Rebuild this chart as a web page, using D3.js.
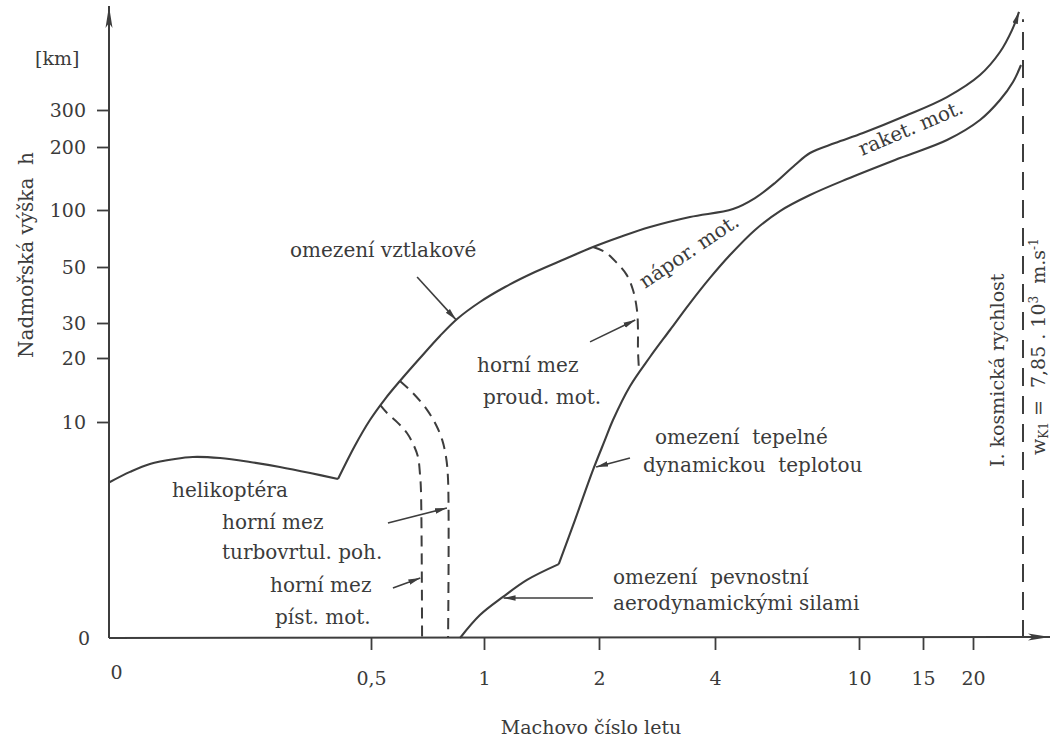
<!DOCTYPE html>
<html>
<head>
<meta charset="utf-8">
<script src="https://cdn.jsdelivr.net/npm/d3@7/dist/d3.min.js"></script>
<style>
  html, body { margin: 0; padding: 0; background: #ffffff; }
  svg text { font-family: "DejaVu Serif", "Liberation Serif", serif; fill: #3b3b3b; white-space: pre; }
</style>
</head>
<body>
<svg id="chart" width="1051" height="740"></svg>
<script>
// ---------------- DATA ----------------
// x axis: Mach number (non-uniform schematic scale)
const machTicks = [0, 0.5, 1, 2, 4, 10, 15, 20];
const machTickLabels = ["0", "0,5", "1", "2", "4", "10", "15", "20"];
// y axis: altitude in km (non-uniform schematic scale)
const altTicks = [0, 10, 20, 30, 50, 100, 200, 300];
const altTickLabels = ["0", "10", "20", "30", "50", "100", "200", "300"];

// helicopter limit  [Mach, km]
const heliCurve = [[0, 7.2], [0.04, 7.69], [0.078, 8.06], [0.126, 8.29], [0.16, 8.38], [0.212, 8.33],
  [0.269, 8.15], [0.326, 7.92], [0.384, 7.64], [0.437, 7.36]];
// lift limit (omezení vztlakové) up to the rocket region
const liftCurve = [[0.437, 7.36], [0.469, 8.89], [0.498, 10.31], [0.562, 13.59], [0.628, 16.41], [0.717, 20],
  [0.805, 26.29], [0.881, 31.43], [0.982, 37.5], [1.183, 42.86], [1.443, 48.2], [1.704, 57.0], [1.948, 67.5],
  [2.362, 76.3], [2.879, 85.1], [3.569, 93.9], [4.75, 101.6], [5.667, 119], [6.5, 142.9], [7.333, 171.4],
  [7.958, 190.5], [9.0, 210.8], [10.31, 237.8], [13.59, 283.8], [17.4, 335], [20.7, 394.6], [22.7, 456.8],
  [23.9, 516], [24.6, 565]];
// strength limit by aerodynamic forces (omezení pevnostní)
const strengthCurve = [[0.894, 0], [0.982, 1.06], [1.165, 1.9], [1.374, 2.69], [1.65, 3.42]];
// thermal limit by stagnation temperature (omezení tepelné)
const thermalCurve = [[1.65, 3.42], [1.791, 5.46], [1.948, 7.78], [2.103, 9.17], [2.241, 10.31], [2.534, 15.6],
  [2.879, 20.29], [3.224, 28.0], [3.569, 37.1], [3.914, 46.1], [4.625, 60.5], [5.667, 82.5], [6.708, 99.1],
  [7.958, 123.8], [9.5, 149.2], [13.2, 182.5], [17.4, 218.9], [20.7, 273], [22.7, 327], [24.0, 375.7],
  [24.8, 421.6]];
// upper limits of engines (dashed)
const pistonLimit = [[0.54, 12.66], [0.571, 11.4], [0.62, 9.95], [0.659, 9.49], [0.69, 8.9], [0.708, 8.38],
  [0.717, 7.55], [0.721, 6.85], [0.726, 0]];
const turbopropLimit = [[0.628, 16.41], [0.686, 14.5], [0.748, 11.9], [0.788, 9.86], [0.815, 9.17],
  [0.832, 8.38], [0.841, 7.31], [0.841, 0]];
const jetLimit = [[1.948, 67.5], [2.103, 63.2], [2.31, 53.5], [2.48, 47.1], [2.586, 41.8], [2.655, 34.6],
  [2.672, 28], [2.672, 22.3], [2.69, 18]];
// first cosmic velocity (dashed vertical)
const orbitalMach = 25;
const orbitalLine = [[orbitalMach, 0], [orbitalMach, 545]];
// annotation arrows [from, to] in [Mach, km]
const annotationArrows = [
  [[0.704, 46.4], [0.876, 31.2]],
  [[0.575, 5.32], [0.836, 6.02]],
  [[0.597, 2.31], [0.718, 2.78]],
  [[1.922, 24.6], [2.625, 31.1]],
  [[2.534, 8.33], [1.975, 7.92]],
  [[1.948, 1.85], [1.17, 1.85]]
];

// ---------------- CHART ----------------
const svg = d3.select("#chart");
const ink = "#3d3d3d";

const x = d3.scaleLinear().domain(machTicks).range([109, 371, 484, 599, 715, 859, 923, 973]);
const y = d3.scaleLinear().domain(altTicks).range([638, 422, 358, 323, 267, 210, 147, 110]);

const defs = svg.append("defs");
defs.append("marker").attr("id", "ah")
  .attr("viewBox", "0 0 12 8").attr("refX", 12).attr("refY", 4)
  .attr("markerWidth", 12).attr("markerHeight", 8).attr("markerUnits", "userSpaceOnUse")
  .attr("orient", "auto")
  .append("path").attr("d", "M0,1.2 L12,4 L0,6.8 Z").attr("fill", ink);
defs.append("marker").attr("id", "axah")
  .attr("viewBox", "0 0 22 8").attr("refX", 22).attr("refY", 4)
  .attr("markerWidth", 22).attr("markerHeight", 8).attr("markerUnits", "userSpaceOnUse")
  .attr("orient", "auto")
  .append("path").attr("d", "M0,0.5 L22,4 L0,7.5 L5,4 Z").attr("fill", ink);

const line = d3.line().x(d => x(d[0])).y(d => y(d[1])).curve(d3.curveCatmullRom.alpha(0.5));
const straight = d3.line().x(d => x(d[0])).y(d => y(d[1]));

// Axes
const xAxis = d3.axisBottom(x).tickValues(machTicks).tickSize(12).tickPadding(22)
  .tickFormat((d, i) => machTickLabels[i]);
const gx = svg.append("g").attr("transform", `translate(0,${y(0)})`).call(xAxis);
gx.select(".domain").remove();
gx.selectAll(".tick line").attr("stroke", ink).attr("stroke-width", 1.8)
  .filter(d => d === 0).remove();
gx.selectAll(".tick text").attr("font-size", 19).attr("font-family", null).attr("fill", ink)
  .filter(d => d === 0).attr("dx", 7).attr("dy", "0.35em");

const yAxis = d3.axisLeft(y).tickValues(altTicks).tickSize(12).tickPadding(11)
  .tickFormat((d, i) => altTickLabels[i]);
const gy = svg.append("g").attr("transform", `translate(${x(0)},0)`).call(yAxis);
gy.select(".domain").remove();
gy.selectAll(".tick line").attr("stroke", ink).attr("stroke-width", 1.8)
  .filter(d => d === 0).remove();
gy.selectAll(".tick text").attr("font-size", 19).attr("font-family", null).attr("fill", ink)
  .filter(d => d === 0).attr("dx", 4);

svg.append("line").attr("x1", x(0)).attr("y1", y(0)).attr("x2", x(0)).attr("y2", 6)
  .attr("stroke", ink).attr("stroke-width", 2).attr("marker-end", "url(#axah)");
svg.append("line").attr("x1", x(0)).attr("y1", y(0)).attr("x2", 1050).attr("y2", y(0) - 1)
  .attr("stroke", ink).attr("stroke-width", 2).attr("marker-end", "url(#axah)");

// Solid limit curves
[heliCurve, strengthCurve, thermalCurve].forEach(c => {
  svg.append("path").attr("d", line(c)).attr("fill", "none").attr("stroke", ink).attr("stroke-width", 2.1);
});
svg.append("path").attr("d", line(liftCurve)).attr("fill", "none").attr("stroke", ink)
  .attr("stroke-width", 2.1).attr("marker-end", "url(#ah)");

// Dashed engine limits
[pistonLimit, turbopropLimit, jetLimit].forEach(c => {
  svg.append("path").attr("d", line(c)).attr("fill", "none").attr("stroke", ink)
    .attr("stroke-width", 2).attr("stroke-dasharray", "11,7");
});
svg.append("path").attr("d", straight(orbitalLine)).attr("fill", "none").attr("stroke", ink)
  .attr("stroke-width", 2).attr("stroke-dasharray", "18,10");

// Annotation arrows
annotationArrows.forEach(a => {
  svg.append("path").attr("d", straight(a)).attr("fill", "none").attr("stroke", ink)
    .attr("stroke-width", 1.6).attr("marker-end", "url(#ah)");
});

// Texts
function txt(s, px, py, opts = {}) {
  const t = svg.append("text").attr("x", px).attr("y", py).attr("font-size", opts.size || 20)
    .attr("text-anchor", opts.anchor || "start").text(s);
  if (opts.rotate !== undefined) t.attr("transform", `rotate(${opts.rotate},${px},${py})`);
  return t;
}
txt("[km]", 35, 65, { size: 19 });
txt("Nadmořská výška  h", 33, 255, { rotate: -90, anchor: "middle" });
txt("Machovo číslo letu", 591, 734, { anchor: "middle", size: 19 });

txt("omezení vztlakové", 290, 257);
txt("helikoptéra", 172, 497);
txt("horní mez", 222, 529);
txt("turbovrtul. poh.", 222, 559);
txt("horní mez", 270, 592);
txt("píst. mot.", 275, 624);
txt("horní mez", 477, 372);
txt("proud. mot.", 483, 404);
txt("omezení  tepelné", 655, 444);
txt("dynamickou  teplotou", 643, 472);
txt("omezení  pevnostní", 613, 584);
txt("aerodynamickými silami", 613, 610);
txt("nápor. mot.", 645, 289, { rotate: -34 });
txt("raket. mot.", 862, 156, { rotate: -23 });
txt("I. kosmická rychlost", 1004, 467, { rotate: -90, size: 19 });

const w = svg.append("text").attr("x", 1045).attr("y", 455).attr("font-size", 19)
  .attr("transform", "rotate(-90,1045,455)");
w.append("tspan").text("w");
w.append("tspan").attr("font-size", 12).attr("dy", 3).text("K1");
w.append("tspan").attr("dy", -3).text(" =  7,85 . 10");
w.append("tspan").attr("font-size", 12).attr("dy", -7).text("3");
w.append("tspan").attr("dy", 7).text("  m.s");
w.append("tspan").attr("font-size", 12).attr("dy", -7).text("-1");
</script>
</body>
</html>
